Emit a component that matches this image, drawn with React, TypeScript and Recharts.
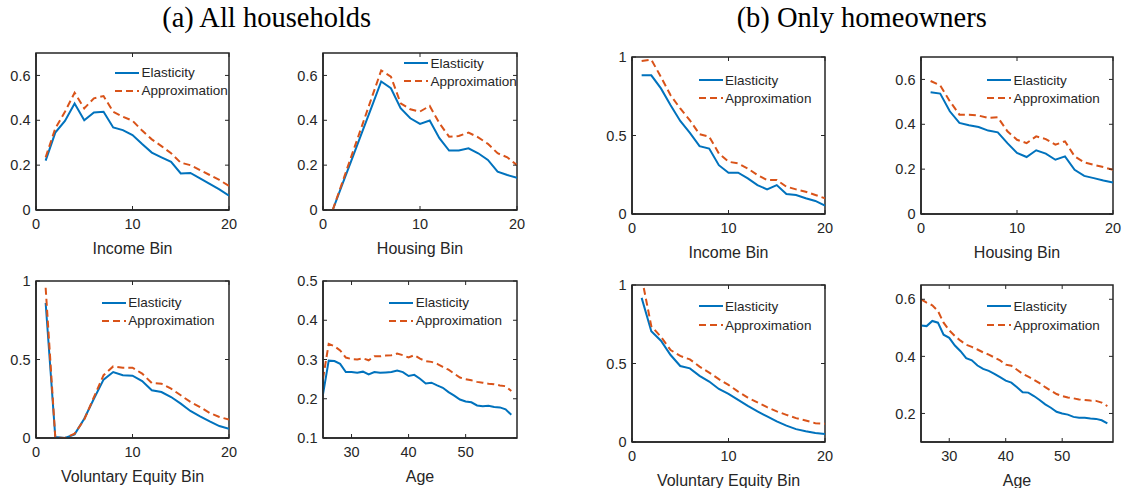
import { Legend, Line, LineChart, ReferenceArea, XAxis, YAxis } from 'recharts';

const BLUE = '#0072BD';
const ORANGE = '#D95319';
const INK = '#262626';
const SANS = '"Liberation Sans", Arial, sans-serif';
const SERIF = '"Liberation Serif", "Times New Roman", serif';

// x categories
const bins = [1, 2, 3, 4, 5, 6, 7, 8, 9, 10, 11, 12, 13, 14, 15, 16, 17, 18, 19, 20];
const ages = [
  25, 26, 27, 28, 29, 30, 31, 32, 33, 34, 35, 36, 37, 38, 39, 40, 41, 42, 43, 44, 45, 46, 47, 48, 49, 50,
  51, 52, 53, 54, 55, 56, 57, 58,
];

// (a) all households
const incomeAllElasticity = [0.22, 0.345, 0.397, 0.475, 0.4, 0.435, 0.438, 0.368, 0.356, 0.334, 0.294, 0.256, 0.235, 0.215, 0.163, 0.165, 0.141, 0.116, 0.092, 0.064];
const incomeAllApprox = [0.235, 0.364, 0.438, 0.523, 0.453, 0.498, 0.508, 0.438, 0.416, 0.398, 0.354, 0.315, 0.285, 0.253, 0.211, 0.2, 0.178, 0.156, 0.134, 0.107];
const housingAllElasticity = [0, 0.115, 0.229, 0.344, 0.458, 0.573, 0.543, 0.454, 0.409, 0.384, 0.399, 0.32, 0.265, 0.265, 0.275, 0.253, 0.223, 0.171, 0.156, 0.144];
const housingAllApprox = [0, 0.124, 0.249, 0.373, 0.498, 0.622, 0.595, 0.476, 0.449, 0.439, 0.464, 0.387, 0.327, 0.33, 0.345, 0.324, 0.295, 0.253, 0.235, 0.2];
const equityAllElasticity = [0.86, 0.006, 0, 0.023, 0.123, 0.25, 0.372, 0.42, 0.4, 0.397, 0.363, 0.304, 0.293, 0.261, 0.219, 0.172, 0.138, 0.106, 0.076, 0.059];
const equityAllApprox = [0.957, 0.003, 0, 0.028, 0.117, 0.26, 0.4, 0.456, 0.448, 0.448, 0.41, 0.35, 0.346, 0.314, 0.272, 0.23, 0.197, 0.159, 0.134, 0.117];
const ageAllElasticity = [
  0.211, 0.297, 0.296, 0.289, 0.268, 0.268, 0.266, 0.269, 0.262, 0.268, 0.266, 0.267, 0.268, 0.272, 0.268, 0.258, 0.261,
  0.251, 0.239, 0.241, 0.234, 0.228, 0.217, 0.208, 0.198, 0.193, 0.191, 0.183, 0.181, 0.182, 0.179, 0.178, 0.173, 0.159,
];
const ageAllApprox = [
  0.251, 0.34, 0.334, 0.323, 0.305, 0.301, 0.3, 0.303, 0.298, 0.308, 0.308, 0.31, 0.311, 0.315, 0.311, 0.305, 0.311,
  0.302, 0.296, 0.294, 0.289, 0.281, 0.274, 0.264, 0.254, 0.25, 0.247, 0.243, 0.241, 0.238, 0.237, 0.234, 0.232, 0.22,
];

// (b) only homeowners
const incomeOwnElasticity = [0.883, 0.883, 0.8, 0.693, 0.593, 0.517, 0.432, 0.417, 0.311, 0.263, 0.263, 0.227, 0.184, 0.157, 0.184, 0.127, 0.121, 0.1, 0.083, 0.053];
const incomeOwnApprox = [0.975, 0.983, 0.873, 0.756, 0.672, 0.597, 0.508, 0.492, 0.386, 0.333, 0.322, 0.29, 0.248, 0.216, 0.216, 0.174, 0.157, 0.142, 0.121, 0.1];
const housingOwnElasticity = [0.543, 0.537, 0.458, 0.406, 0.396, 0.388, 0.372, 0.364, 0.316, 0.272, 0.254, 0.284, 0.269, 0.242, 0.257, 0.197, 0.17, 0.16, 0.149, 0.14];
const housingOwnApprox = [0.593, 0.573, 0.503, 0.443, 0.443, 0.439, 0.428, 0.431, 0.369, 0.331, 0.316, 0.346, 0.334, 0.309, 0.324, 0.257, 0.23, 0.219, 0.209, 0.197];
const equityOwnElasticity = [0.918, 0.706, 0.645, 0.554, 0.484, 0.469, 0.421, 0.385, 0.338, 0.307, 0.268, 0.23, 0.195, 0.163, 0.131, 0.104, 0.082, 0.068, 0.057, 0.051];
const equityOwnApprox = [1.05, 0.738, 0.67, 0.586, 0.548, 0.526, 0.48, 0.442, 0.4, 0.364, 0.321, 0.283, 0.252, 0.222, 0.195, 0.173, 0.152, 0.137, 0.12, 0.116];
const ageOwnElasticity = [
  0.508, 0.506, 0.524, 0.518, 0.476, 0.465, 0.438, 0.418, 0.394, 0.386, 0.368, 0.356, 0.349, 0.339, 0.327, 0.315, 0.308,
  0.292, 0.274, 0.273, 0.261, 0.247, 0.232, 0.22, 0.206, 0.2, 0.196, 0.188, 0.185, 0.185, 0.182, 0.181, 0.176, 0.165,
];
const ageOwnApprox = [
  0.6, 0.588, 0.579, 0.559, 0.518, 0.491, 0.471, 0.455, 0.441, 0.433, 0.424, 0.414, 0.406, 0.396, 0.386, 0.371, 0.367,
  0.353, 0.339, 0.329, 0.318, 0.306, 0.292, 0.28, 0.268, 0.261, 0.256, 0.253, 0.249, 0.247, 0.245, 0.244, 0.238, 0.226,
];

// tick labels
const binTicks = [0, 10, 20];
const ageTicks = [30, 40, 50];
const ticks07 = [0, 0.2, 0.4, 0.6];
const ticks1 = [0, 0.5, 1];
const ticksAgeAll = [0.1, 0.2, 0.3, 0.4, 0.5];
const ticksAgeOwn = [0.2, 0.4, 0.6];

const seriesOrder = ['elasticity', 'approximation'];
const TICK_LEN = 4;
const TOP = 10;
const LEFT = 40;

// x tick: label below the axis plus inner ticks on the bottom and top edges
function XTick({ x, y, payload, plotTop, plotBottom }: any) {
  return (
    <g>
      <line x1={x} y1={plotBottom} x2={x} y2={plotBottom - TICK_LEN} stroke={INK} strokeWidth={1} />
      <line x1={x} y1={plotTop} x2={x} y2={plotTop + TICK_LEN} stroke={INK} strokeWidth={1} />
      <text x={x} y={y} dy="0.71em" textAnchor="middle" fill={INK} fontSize={14.5} fontFamily={SANS}>
        {payload.value}
      </text>
    </g>
  );
}

// y tick: label left of the axis plus inner ticks on the left and right edges
function YTick({ x, y, payload, plotLeft, plotRight }: any) {
  return (
    <g>
      <line x1={plotLeft} y1={y} x2={plotLeft + TICK_LEN} y2={y} stroke={INK} strokeWidth={1} />
      <line x1={plotRight} y1={y} x2={plotRight - TICK_LEN} y2={y} stroke={INK} strokeWidth={1} />
      <text x={x} y={y} dy="0.355em" textAnchor="end" fill={INK} fontSize={14.5} fontFamily={SANS}>
        {payload.value}
      </text>
    </g>
  );
}

function LegendBox({ payload, rowGap }: any) {
  const items = [...(payload || [])].sort((a: any, b: any) => seriesOrder.indexOf(a.dataKey) - seriesOrder.indexOf(b.dataKey));
  return (
    <div style={{ fontFamily: SANS, fontSize: 13.5, color: INK }}>
      {items.map((p: any) => (
        <div key={p.value} style={{ display: 'flex', alignItems: 'center', height: rowGap }}>
          <div
            style={{
              width: 24,
              height: 2,
              background:
                p.dataKey === 'approximation'
                  ? `repeating-linear-gradient(to right, ${p.color} 0px, ${p.color} 7px, transparent 7px, transparent 11px)`
                  : p.color,
            }}
          />
          <span style={{ marginLeft: 2.5, whiteSpace: 'nowrap', lineHeight: 1 }}>{p.value}</span>
        </div>
      ))}
    </div>
  );
}

type PanelProps = {
  box: [number, number, number, number];
  xs: number[];
  elasticity: number[];
  approximation: number[];
  xDomain: [number, number];
  xTicks: number[];
  yDomain: [number, number];
  yTicks: number[];
  xLabel: string;
  legendAt: [number, number];
  rowGap?: number;
};

function Panel({ box, xs, elasticity, approximation, xDomain, xTicks, yDomain, yTicks, xLabel, legendAt, rowGap = 18 }: PanelProps) {
  const [x0, y0, x1, y1] = box;
  const plotW = x1 - x0;
  const plotH = y1 - y0;
  const data = xs.map((x, i) => ({ x, elasticity: elasticity[i], approximation: approximation[i] }));
  return (
    <div style={{ position: 'absolute', left: x0 - LEFT, top: y0 - TOP }}>
      <LineChart width={plotW + 50} height={plotH + 60} data={data} margin={{ top: TOP, right: 10, left: 0, bottom: 0 }}>
        <XAxis
          dataKey="x"
          type="number"
          domain={xDomain}
          ticks={xTicks}
          allowDataOverflow
          height={50}
          stroke={INK}
          axisLine={{ stroke: INK, strokeWidth: 1.5 }}
          tickLine={false}
          tickSize={0}
          tickMargin={9}
          tick={<XTick plotTop={TOP} plotBottom={TOP + plotH} />}
          label={{ value: xLabel, position: 'insideTop', offset: 33, fill: INK, fontSize: 16, fontFamily: SANS }}
        />
        <YAxis
          type="number"
          domain={yDomain}
          ticks={yTicks}
          allowDataOverflow
          width={LEFT}
          stroke={INK}
          axisLine={{ stroke: INK, strokeWidth: 1.5 }}
          tickLine={false}
          tickSize={0}
          tickMargin={5.5}
          tick={<YTick plotLeft={LEFT} plotRight={LEFT + plotW} />}
        />
        <ReferenceArea
          x1={xDomain[0]}
          x2={xDomain[1]}
          y1={yDomain[0]}
          y2={yDomain[1]}
          fill="none"
          fillOpacity={0}
          stroke={INK}
          strokeWidth={1.5}
          strokeOpacity={1}
          ifOverflow="visible"
        />
        <Legend
          layout="vertical"
          align="center"
          verticalAlign="middle"
          wrapperStyle={{ left: LEFT + legendAt[0], top: legendAt[1] + TOP - rowGap / 2, width: 'auto', height: 'auto' }}
          content={(props: any) => <LegendBox {...props} rowGap={rowGap} />}
        />
        <Line dataKey="elasticity" name="Elasticity" stroke={BLUE} strokeWidth={2} dot={false} activeDot={false} isAnimationActive={false} />
        <Line
          dataKey="approximation"
          name="Approximation"
          stroke={ORANGE}
          strokeWidth={2}
          strokeDasharray="7 4"
          dot={false}
          activeDot={false}
          isAnimationActive={false}
        />
      </LineChart>
    </div>
  );
}

const titleStyle = {
  position: 'absolute' as const,
  top: 0,
  width: 400,
  textAlign: 'center' as const,
  fontFamily: SERIF,
  fontSize: 28.5,
  lineHeight: '36px',
  color: '#000',
};

export default function App() {
  return (
    <div style={{ position: 'absolute', left: 0, top: 0, width: 1123, height: 488, background: '#fff' }}>
      <Panel box={[36, 53, 229, 210]} xs={bins} elasticity={incomeAllElasticity} approximation={incomeAllApprox} xDomain={[0, 20]} xTicks={binTicks} yDomain={[0, 0.7]} yTicks={ticks07} xLabel="Income Bin" legendAt={[79, 19.7]} />
      <Panel box={[323, 53, 517, 210]} xs={bins} elasticity={housingAllElasticity} approximation={housingAllApprox} xDomain={[0, 20]} xTicks={binTicks} yDomain={[0, 0.7]} yTicks={ticks07} xLabel="Housing Bin" legendAt={[81, 10.3]} />
      <Panel box={[36, 281, 229, 438]} xs={bins} elasticity={equityAllElasticity} approximation={equityAllApprox} xDomain={[0, 20]} xTicks={binTicks} yDomain={[0, 1]} yTicks={ticks1} xLabel="Voluntary Equity Bin" legendAt={[65.7, 21.7]} />
      <Panel box={[323, 281, 517, 438]} xs={ages} elasticity={ageAllElasticity} approximation={ageAllApprox} xDomain={[25, 59]} xTicks={ageTicks} yDomain={[0.1, 0.5]} yTicks={ticksAgeAll} xLabel="Age" legendAt={[66.3, 21.7]} />

      <Panel box={[632, 57, 825, 214]} xs={bins} elasticity={incomeOwnElasticity} approximation={incomeOwnApprox} xDomain={[0, 20]} xTicks={binTicks} yDomain={[0, 1]} yTicks={ticks1} xLabel="Income Bin" legendAt={[66.6, 23.3]} />
      <Panel box={[921, 57, 1113, 214]} xs={bins} elasticity={housingOwnElasticity} approximation={housingOwnApprox} xDomain={[0, 20]} xTicks={binTicks} yDomain={[0, 0.7]} yTicks={ticks07} xLabel="Housing Bin" legendAt={[66, 23.3]} />
      <Panel box={[632, 285, 825, 442]} xs={bins} elasticity={equityOwnElasticity} approximation={equityOwnApprox} xDomain={[0, 20]} xTicks={binTicks} yDomain={[0, 1]} yTicks={ticks1} xLabel="Voluntary Equity Bin" legendAt={[66.6, 21.3]} rowGap={19} />
      <Panel box={[921, 285, 1113, 442]} xs={ages} elasticity={ageOwnElasticity} approximation={ageOwnApprox} xDomain={[25, 59]} xTicks={ageTicks} yDomain={[0.1, 0.65]} yTicks={ticksAgeOwn} xLabel="Age" legendAt={[66, 21.3]} rowGap={19} />

      <div style={{ ...titleStyle, left: 266.7 - 200 }}>(a) All households</div>
      <div style={{ ...titleStyle, left: 861.7 - 200 }}>(b) Only homeowners</div>
    </div>
  );
}
